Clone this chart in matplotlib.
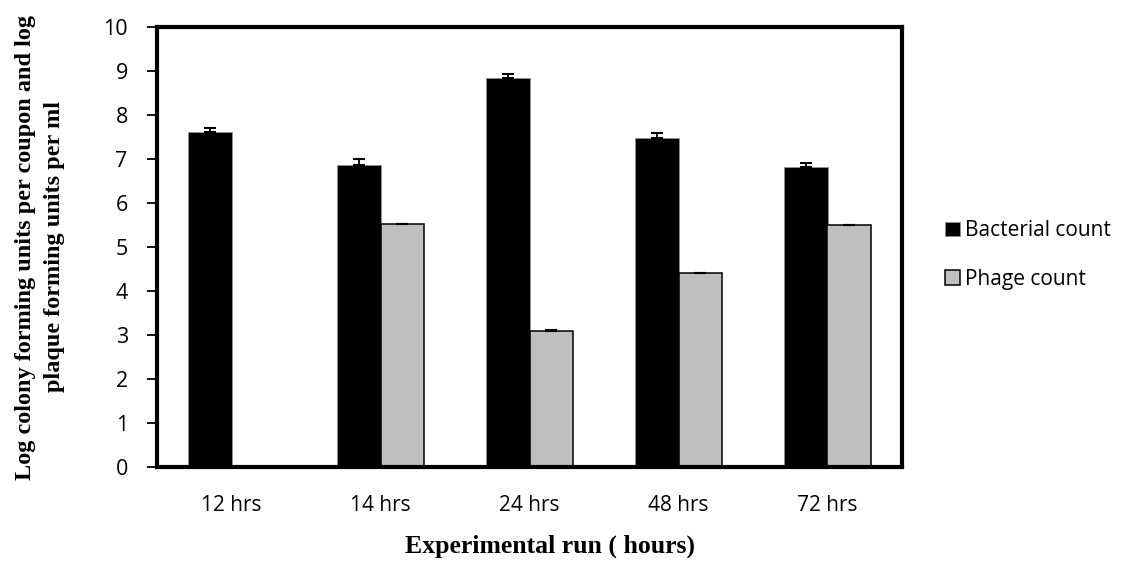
import matplotlib
matplotlib.use("Agg")
import matplotlib.pyplot as plt
import numpy as np

categories = ["12 hrs", "14 hrs", "24 hrs", "48 hrs", "72 hrs"]
bacterial = [7.61, 6.86, 8.85, 7.48, 6.82]
bacterial_err = [0.09, 0.14, 0.08, 0.11, 0.08]
phage = [0.0, 5.52, 3.09, 4.40, 5.49]
phage_err = [0.0, 0.01, 0.02, 0.02, 0.02]
series_names = ["Bacterial count", "Phage count"]

W, H = 1136, 570
fig = plt.figure(figsize=(W/100, H/100), dpi=100)
ax = fig.add_axes([157/W, 1 - 467/H, (902-157)/W, (467-27)/H])

x = np.arange(len(categories))
w = 0.29
ax.bar(x - w/2, bacterial, w, color="black", edgecolor="#909090", linewidth=0.6,
       yerr=[np.zeros(len(bacterial)), bacterial_err], capsize=4.3,
       error_kw=dict(ecolor="black", elinewidth=1.3, capthick=1.5), label=series_names[0], zorder=2)
phage_mask = np.array([v > 0 for v in phage])
ax.bar(x[phage_mask] + w/2, np.array(phage)[phage_mask], w, color="#BFBFBF", edgecolor="black", linewidth=1.1,
       yerr=[np.zeros(phage_mask.sum()), np.array(phage_err)[phage_mask]], capsize=4.3,
       error_kw=dict(ecolor="black", elinewidth=1.3, capthick=1.5), label=series_names[1], zorder=2)

ax.set_xlim(-0.5, len(categories) - 0.5)
ax.set_ylim(0, 10)
ax.set_yticks(range(0, 11))
ax.set_xticks(x)
ax.set_xticklabels(categories)
for s in ax.spines.values():
    s.set_linewidth(3)
    s.set_color("black")
ax.tick_params(axis="y", direction="out", length=7, width=1.3, pad=14, labelsize=15.5)
ax.tick_params(axis="x", length=0, pad=20, labelsize=15)
for lab in ax.get_xticklabels() + ax.get_yticklabels():
    lab.set_fontfamily("Open Sans")

fig.text(40/W, 1 - 247/H, "Log colony forming units per coupon and log\nplaque forming units per ml",
         rotation=90, ha="center", va="center", ma="center", fontfamily="Liberation Serif",
         fontweight="bold", fontsize=17.5, linespacing=1.45)
fig.text(550/W, 1 - 546/H, "Experimental run ( hours)", ha="center", va="center",
         fontfamily="Liberation Serif", fontweight="bold", fontsize=18.5)

leg = fig.legend(loc="center left", bbox_to_anchor=(945/W, 1 - 255/H), frameon=False,
                 borderpad=0, borderaxespad=0,
                 prop=dict(family="Open Sans", size=15), handlelength=0.7, handleheight=0.7,
                 handletextpad=0.25, labelspacing=1.32)

fig.savefig("out.png", dpi=100)
